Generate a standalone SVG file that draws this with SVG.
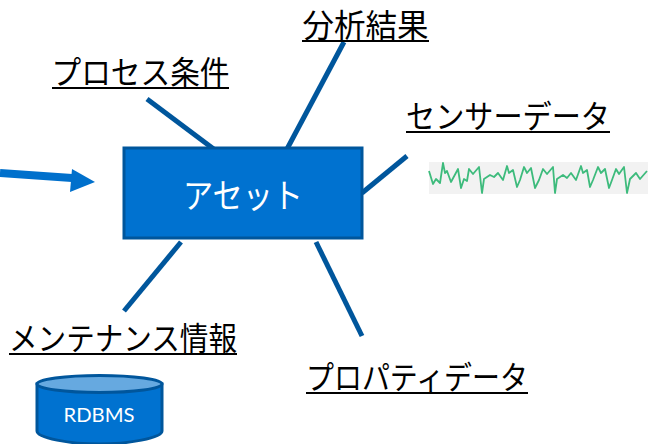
<svg xmlns="http://www.w3.org/2000/svg" width="648" height="444" viewBox="0 0 648 444">
<defs><style>
.lb{font-family:"Noto Sans CJK JP","Noto Sans",sans-serif;font-size:32px;fill:#000;text-anchor:middle}
.ul{stroke:#000;stroke-width:2}
.ln{stroke:#00569c;stroke-width:5;fill:none}
</style></defs>
<rect width="648" height="444" fill="#fff"/>
<g id="connectors">
<line class="ln" x1="344" y1="42" x2="287" y2="149"/>
<line class="ln" x1="147" y1="99" x2="215" y2="150"/>
<line class="ln" x1="407" y1="156" x2="362" y2="193"/>
<line class="ln" x1="181" y1="242" x2="124" y2="311"/>
<line class="ln" x1="316" y1="242" x2="362" y2="336"/>
<line x1="0" y1="173" x2="72" y2="178" stroke="#0070cc" stroke-width="8"/>
<polygon points="72,169 95,182 70,192" fill="#0070cc"/>
</g>
<g id="asset">
<rect x="124" y="148" width="238" height="90" fill="#0072d0" stroke="#00569c" stroke-width="3"/>
<text x="243" y="208" font-family="'Noto Sans CJK JP','Noto Sans',sans-serif" font-size="34" fill="#fff" text-anchor="middle" textLength="120" lengthAdjust="spacingAndGlyphs">アセット</text>
</g>
<g id="label-analysis"><text class="lb" x="365.500" y="37" textLength="126" lengthAdjust="spacingAndGlyphs">分析結果</text><line class="ul" x1="302" x2="429" y1="41" y2="41"/></g>
<g id="label-process"><text class="lb" x="140.500" y="84" textLength="178" lengthAdjust="spacingAndGlyphs">プロセス条件</text><line class="ul" x1="52" x2="229" y1="88" y2="88"/></g>
<g id="label-sensor"><text class="lb" x="508" y="128" textLength="204" lengthAdjust="spacingAndGlyphs">センサーデータ</text><line class="ul" x1="406" x2="610" y1="132" y2="132"/></g>
<g id="label-maint"><text class="lb" x="123" y="350" textLength="228" lengthAdjust="spacingAndGlyphs">メンテナンス情報</text><line class="ul" x1="9" x2="237" y1="354" y2="354"/></g>
<g id="label-property"><text class="lb" x="417" y="389" textLength="222" lengthAdjust="spacingAndGlyphs">プロパティデータ</text><line class="ul" x1="306" x2="528" y1="393" y2="393"/></g>
<g id="sensor-chart">
<rect x="429" y="162" width="219" height="32" fill="#f2f2f2"/>
<polyline fill="none" stroke="#3dbb7c" stroke-width="1.800" stroke-linejoin="round" points="429,171 433,184 436,179 440,183 443,163 445,173 447,171 451,182 458,169 461,188 464,179 467,181 469,169 473,174 479,167 482,193 484,179 490,175 494,177 498,173 503,180 507,166 509,173 513,170 517,187 520,180 524,167 527,173 531,168 535,188 539,180 543,169 547,174 553,167 555,193 557,179 563,175 567,178 571,173 576,180 581,166 583,173 587,170 590,187 593,180 598,167 601,173 605,169 609,188 612,180 616,169 619,174 624,167 627,193 630,179 636,173 640,179 647,171"/>
</g>
<g id="rdbms">
<path d="M37,384 V431 C37,438 70,444 99,444 C128,444 162,438 162,431 V384 Z" fill="#0072d0" stroke="#00569c" stroke-width="3"/>
<ellipse cx="99.500" cy="384" rx="62.500" ry="8.500" fill="#66a9e0" stroke="#00569c" stroke-width="3"/>
<text x="99" y="422" font-family="Lato,'Liberation Sans',sans-serif" font-size="20" fill="#fff" text-anchor="middle" textLength="71" lengthAdjust="spacingAndGlyphs">RDBMS</text>
</g>
</svg>
